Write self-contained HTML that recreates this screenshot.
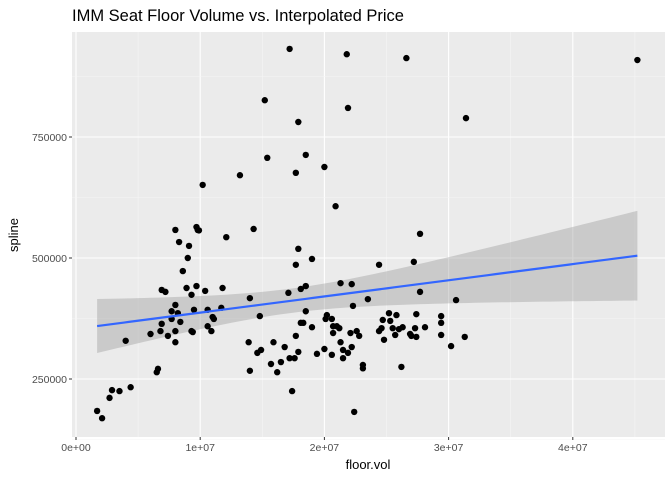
<!DOCTYPE html>
<html><head><meta charset="utf-8"><style>
body{margin:0;background:#fff;font-family:"Liberation Sans",sans-serif}
svg text{font-family:"Liberation Sans",sans-serif}
</style></head><body>
<svg id="c" width="672" height="480" xmlns="http://www.w3.org/2000/svg"></svg>
<script>
const xVals=[1.7,2.1,2.7,2.9,3.5,4.4,4.0,6.0,6.8,6.9,6.5,6.6,6.9,7.2,7.4,8.0,8.0,7.7,8.0,7.7,8.2,8.4,8.3,8.0,9.1,9.0,8.6,8.9,9.3,9.5,9.3,9.4,9.7,9.8,9.9,10.4,10.6,10.6,10.9,11.0,11.1,11.8,11.7,12.1,14.0,13.9,14.0,14.8,14.6,14.9,15.9,15.7,16.2,16.5,16.8,17.2,17.6,17.4,17.1,17.7,17.9,18.1,18.1,18.3,18.5,18.5,17.7,17.9,19.0,19.0,19.4,20.0,20.2,20.1,20.6,20.6,20.7,20.7,21.0,21.2,21.3,21.5,21.5,21.9,22.2,22.1,22.6,22.8,22.4,21.3,22.2,22.3,23.5,23.1,23.1,24.4,27.7,27.2,27.7,30.6,25.2,25.8,24.7,25.3,27.4,24.4,24.6,25.5,25.7,26.0,26.3,24.8,26.9,27.0,27.4,27.3,28.1,29.4,29.4,29.4,30.2,31.3,26.2,17.2,21.8,15.2,21.9,17.9,15.4,18.5,13.2,17.7,20.0,10.2,20.9,9.7,14.3,26.6,31.4,45.2];
const yVals=[184,169,211,227,225,233,329,343,349,364,264,271,434,430,339,326,349,374,403,390,386,368,533,558,525,500,473,438,424,393,349,347,442,558,557,432,393,359,349,378,374,438,397,543,417,326,267,380,304,310,326,281,264,285,316,293,293,225,428,339,306,436,366,366,442,390,486,519,498,357,302,312,382,374,300,374,359,345,359,355,326,310,293,304,316,345,349,339,182,448,446,401,415,279,272,486,550,492,430,413,386,382,372,370,384,349,355,355,341,353,357,331,343,339,337,355,357,380,366,341,318,337,275,932,921,826,810,781,707,713,671,676,688,651,607,564,560,913,789,909];
const xTicks=[0,1e7,2e7,3e7,4e7];
const xTickLabels=["0e+00","1e+07","2e+07","3e+07","4e+07"];
const yTicks=[250000,500000,750000];
const yTickLabels=["250000","500000","750000"];
const NS="http://www.w3.org/2000/svg";
const svg=document.getElementById('c');
const L=72,R=665,T=32,B=437;
const sx=v=>76+v/1e7*124.2;
const sy=v=>379-(v-250000)/250000*121;
function el(t,a,p){const e=document.createElementNS(NS,t);for(const k in a)e.setAttribute(k,a[k]);(p||svg).appendChild(e);return e;}
const bg=el('rect',{x:L,y:T,width:R-L,height:B-T,fill:'#ebebeb'});


const grid=el('g',{});


for(let i=0;i<xTicks.length;i++){
  el('line',{x1:sx(xTicks[i]+5e6),x2:sx(xTicks[i]+5e6),y1:T,y2:B,stroke:'#f5f5f5','stroke-width':0.6},grid);
  el('line',{x1:sx(xTicks[i]),x2:sx(xTicks[i]),y1:T,y2:B,stroke:'#fff','stroke-width':1.1},grid);
}
[125000,375000,625000,875000].forEach(v=>el('line',{x1:L,x2:R,y1:sy(v),y2:sy(v),stroke:'#f5f5f5','stroke-width':0.6},grid));
yTicks.forEach(v=>el('line',{x1:L,x2:R,y1:sy(v),y2:sy(v),stroke:'#fff','stroke-width':1.1},grid));
// regression
const X=xVals.map(v=>v*1e6),Y=yVals.map(v=>v*1000),n=X.length;
const mx=X.reduce((a,b)=>a+b)/n,my=Y.reduce((a,b)=>a+b)/n;
let sxx=0,sxy=0;for(let i=0;i<n;i++){sxx+=(X[i]-mx)**2;sxy+=(X[i]-mx)*(Y[i]-my);}
const b1=sxy/sxx,b0=my-b1*mx;
let sse=0;for(let i=0;i<n;i++)sse+=(Y[i]-b0-b1*X[i])**2;
const s=Math.sqrt(sse/(n-2)),tq=1.98;
const xmin=Math.min(...X),xmax=Math.max(...X);
const up=[],lo=[],ln=[];
for(let k=0;k<=80;k++){const x=xmin+(xmax-xmin)*k/80;const f=b0+b1*x;const se=s*Math.sqrt(1/n+(x-mx)**2/sxx);
up.push(sx(x)+','+sy(f+tq*se));lo.unshift(sx(x)+','+sy(f-tq*se));ln.push(sx(x)+','+sy(f));}
const band=el('polygon',{points:up.concat(lo).join(' '),fill:'#999','fill-opacity':0.4});


const pts=el('g',{});


for(let i=0;i<n;i++){const c=el('circle',{cx:sx(X[i]),cy:sy(Y[i]),r:3.2,fill:'#000'},pts);

}
const line=el('polyline',{points:ln.join(' '),fill:'none',stroke:'#3366ff','stroke-width':2.2});


// axes
const xa=el('g',{});


xTicks.forEach((v,i)=>{el('line',{x1:sx(v),x2:sx(v),y1:B,y2:B+3,stroke:'#333','stroke-width':1},xa);
const t=el('text',{x:sx(v),y:B+14,'font-size':10.5,fill:'#4d4d4d','text-anchor':'middle'},xa);t.textContent=xTickLabels[i];});
const ya=el('g',{});


yTicks.forEach((v,i)=>{el('line',{x1:L-3,x2:L,y1:sy(v),y2:sy(v),stroke:'#333','stroke-width':1},ya);
const t=el('text',{x:L-5,y:sy(v)+4,'font-size':10.5,fill:'#4d4d4d','text-anchor':'end'},ya);t.textContent=yTickLabels[i];});
</script>
<svg style="position:absolute;left:0;top:0" width="672" height="480" xmlns="http://www.w3.org/2000/svg">
<text x="72" y="21" font-size="16.5" fill="#000">IMM Seat Floor Volume vs. Interpolated Price</text>
<text x="368" y="469" font-size="13" text-anchor="middle" fill="#000">floor.vol</text>
<text x="0" y="0" transform="translate(18,235) rotate(-90)" font-size="13" text-anchor="middle" fill="#000">spline</text>
</svg>
</body></html>
